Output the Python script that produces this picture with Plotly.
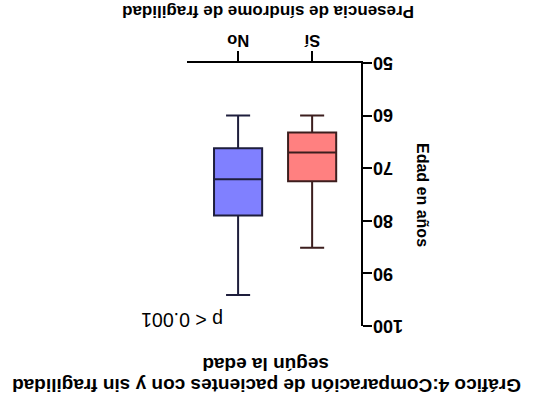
import plotly.graph_objects as go

# ---- data ----
categories = ["No", "Sí"]
mins = [60.0, 60.0]
q1s = [66.2, 63.2]
medians = [72.1, 67.0]
q3s = [79.0, 72.5]
maxs = [94.1, 85.1]
fill_colors = ["rgb(128,128,255)", "rgb(255,128,128)"]
line_colors = ["#1e1e3c", "#3c1e1e"]
y_ticks = [50, 60, 70, 80, 90, 100]

title_line1 = "Gráfico 4:Comparación de pacientes con y sin fragilidad"
title_line2 = "según la edad"
x_title = "Presencia de síndrome de fragilidad"
y_title = "Edad en años"
p_text = "p < 0.001"

W, H = 539, 406
# plot area in screen pixels: x 187..361, y 63..326
L, T = 187, 63
R = W - 361
B = H - 326
FONT = "Liberation Sans, Arial, sans-serif"

def px_to_paper(px, py):
    return (px - L) / (W - L - R), (H - B - py) / (H - T - B)

fig = go.Figure()
for i, c in enumerate(categories):
    fig.add_trace(go.Box(
        x=[c], q1=[q1s[i]], median=[medians[i]], q3=[q3s[i]],
        lowerfence=[mins[i]], upperfence=[maxs[i]],
        fillcolor=fill_colors[i],
        line=dict(color=line_colors[i], width=2),
        whiskerwidth=0.5, width=0.65, boxpoints=False,
        showlegend=False, hoverinfo="skip",
    ))

fig.update_layout(
    template="none",
    width=W, height=H,
    margin=dict(l=L, r=R, t=T, b=B, autoexpand=False),
    paper_bgcolor="white", plot_bgcolor="white",
    boxmode="overlay",
    font=dict(family=FONT, color="black"),
    xaxis=dict(
        side="top", type="category", categoryorder="array", categoryarray=categories,
        range=[-0.69, 1.66], showline=True, linecolor="black", linewidth=2,
        ticks="outside", ticklen=10, tickwidth=2, tickcolor="black",
        showticklabels=False,
        showgrid=False, zeroline=False, automargin=False,
    ),
    yaxis=dict(
        side="right", range=[100, 50], tickvals=y_ticks,
        showline=True, linecolor="black", linewidth=2,
        ticks="outside", ticklen=9, tickwidth=2, tickcolor="black",
        showticklabels=False,
        showgrid=False, zeroline=False, automargin=False,
    ),
)

def add_text(text, px, py, size, angle, bold=True):
    x, y = px_to_paper(px, py)
    fig.add_annotation(
        text=text, x=x, y=y, xref="paper", yref="paper",
        xanchor="center", yanchor="middle", showarrow=False,
        textangle=angle,
        font=dict(size=size, family=FONT, color="black",
                  weight="bold" if bold else "normal"),
    )

# y tick labels (upside down), placed on the y axis scale
tick_x, _ = px_to_paper(371, 0)
for v in y_ticks:
    fig.add_annotation(
        text=str(v), x=tick_x, y=v, xref="paper", yref="y",
        xanchor="left", yanchor="middle", showarrow=False, textangle=180,
        font=dict(size=18, family=FONT, color="black", weight="bold"),
    )

# x tick labels (upside down), placed on the category axis
_, cat_y = px_to_paper(0, 41)
for c in categories:
    fig.add_annotation(
        text=c, x=c, y=cat_y, xref="x", yref="paper",
        xanchor="center", yanchor="middle", showarrow=False, textangle=180,
        font=dict(size=16.5, family=FONT, color="black", weight="bold"),
    )

add_text(x_title, 268, 12, 17, 180)
add_text(y_title, 423, 195, 16, 90)
add_text(p_text, 182, 320, 19.5, 180, bold=False)
add_text(title_line2, 266, 365, 19, 180)
add_text(title_line1, 267, 386, 19, 180)

fig.write_html("out.html", config={"displayModeBar": False},
               post_script="document.body.style.margin='0';")
